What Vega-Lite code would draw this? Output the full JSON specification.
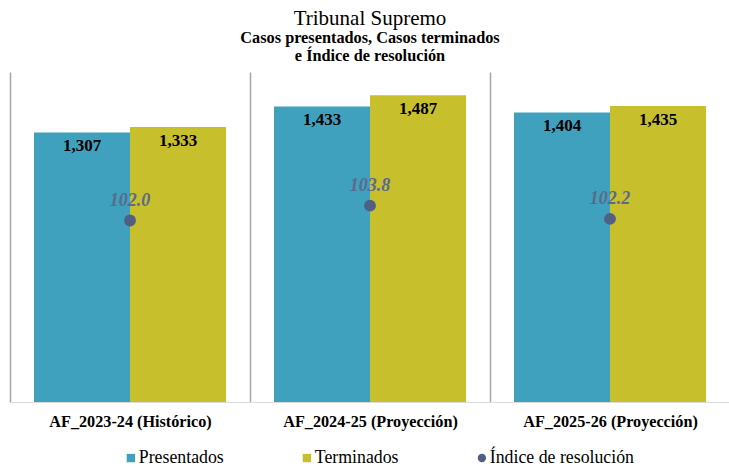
{
  "$schema": "https://vega.github.io/schema/vega-lite/v6.json",
  "width": 720,
  "height": 330,
  "autosize": {"type": "none"},
  "padding": {"left": 10, "top": 72, "right": 0, "bottom": 65},
  "title": {
    "text": "Tribunal Supremo",
    "subtitle": ["Casos presentados, Casos terminados", "e Índice de resolución"],
    "font": "Liberation Serif",
    "fontSize": 21,
    "fontWeight": "normal",
    "color": "black",
    "subtitleFont": "Liberation Serif",
    "subtitleFontSize": 16.3,
    "subtitleFontWeight": "bold",
    "subtitleColor": "black",
    "subtitleLineHeight": 18,
    "subtitlePadding": 1,
    "anchor": "middle",
    "offset": 8
  },
  "config": {
    "view": {"stroke": null},
    "font": "Liberation Serif",
    "axisX": {
      "grid": true,
      "tickBand": "extent",
      "gridColor": "#a6a6a6",
      "gridWidth": 1.5,
      "ticks": false,
      "domain": true,
      "domainColor": "#d9d9d9",
      "labelFont": "Liberation Serif",
      "labelFontSize": 16.2,
      "labelFontWeight": "bold",
      "labelColor": "black",
      "labelPadding": 11,
      "labelAngle": 0,
      "title": null
    }
  },
  "datasets": {
    "bars": [
      {"periodo": "AF_2023-24 (Histórico)", "serie": "Presentados", "valor": 1307},
      {"periodo": "AF_2023-24 (Histórico)", "serie": "Terminados", "valor": 1333},
      {"periodo": "AF_2024-25 (Proyección)", "serie": "Presentados", "valor": 1433},
      {"periodo": "AF_2024-25 (Proyección)", "serie": "Terminados", "valor": 1487},
      {"periodo": "AF_2025-26 (Proyección)", "serie": "Presentados", "valor": 1404},
      {"periodo": "AF_2025-26 (Proyección)", "serie": "Terminados", "valor": 1435}
    ],
    "indice": [
      {"periodo": "AF_2023-24 (Histórico)", "serie": "Índice de resolución", "indice": 102.0},
      {"periodo": "AF_2024-25 (Proyección)", "serie": "Índice de resolución", "indice": 103.8},
      {"periodo": "AF_2025-26 (Proyección)", "serie": "Índice de resolución", "indice": 102.2}
    ]
  },
  "layer": [
    {
      "data": {"name": "bars"},
      "encoding": {
        "x": {"field": "periodo", "type": "nominal", "sort": null, "scale": {"paddingInner": 0, "paddingOuter": 0}},
        "xOffset": {"field": "serie", "type": "nominal", "sort": null, "scale": {"paddingInner": 0, "paddingOuter": 0.25}},
        "y": {"field": "valor", "type": "quantitative", "scale": {"domain": [0, 1600]}, "axis": null}
      },
      "layer": [
        {
          "mark": {"type": "bar"},
          "encoding": {
            "color": {
              "field": "serie",
              "type": "nominal",
              "scale": {"domain": ["Presentados", "Terminados", "Índice de resolución"], "range": ["#3fa1bd", "#c8bf2c", "#4f5f85"]},
              "legend": {
                "title": null,
                "orient": "none",
                "legendX": 112,
                "legendY": 377,
                "direction": "horizontal",
                "labelFont": "Liberation Serif",
                "labelFontSize": 17.8,
                "labelColor": "black",
                "symbolSize": 70,
                "symbolStrokeWidth": 0,
                "columnPadding": 74,
                "labelOffset": -1,
                "symbolOpacity": 1,
                "encode": {
                  "symbols": {
                    "update": {
                      "shape": {"signal": "datum.value === 'Índice de resolución' ? 'circle' : 'square'"}
                    }
                  }
                }
              }
            }
          }
        },
        {
          "mark": {"type": "text", "baseline": "top", "dy": 6, "font": "Liberation Serif", "fontSize": 17, "fontWeight": "bold", "color": "black"},
          "encoding": {
            "text": {"field": "valor", "type": "quantitative", "format": ","}
          }
        }
      ]
    },
    {
      "data": {"name": "indice"},
      "encoding": {
        "x": {"field": "periodo", "type": "nominal", "sort": null},
        "y": {"field": "indice", "type": "quantitative", "scale": {"domain": [80, 120]}, "axis": null}
      },
      "layer": [
        {
          "mark": {"type": "point", "filled": true, "size": 140, "opacity": 1, "color": "#4f5f85"},
          "encoding": {}
        },
        {
          "mark": {"type": "text", "baseline": "middle", "dy": -20, "font": "Liberation Serif", "fontSize": 18, "fontWeight": "bold", "fontStyle": "italic", "color": "#5b6a8c"},
          "encoding": {
            "text": {"field": "indice", "type": "quantitative", "format": ".1f"}
          }
        }
      ]
    }
  ],
  "resolve": {"scale": {"y": "independent"}}
}
